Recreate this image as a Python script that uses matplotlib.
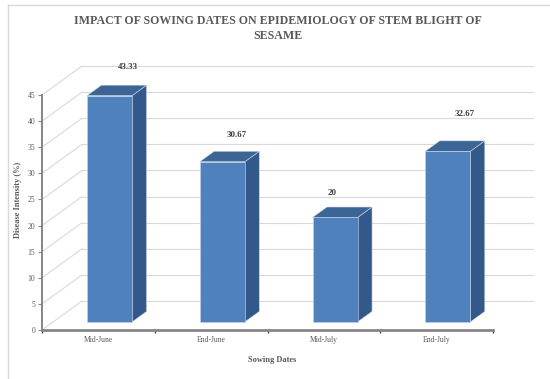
import matplotlib
matplotlib.use("Agg")
import matplotlib.pyplot as plt
from matplotlib.patches import Polygon
from matplotlib.lines import Line2D

# ---- data ----
categories = ["Mid-June", "End-June", "Mid-July", "End-July"]
intensity = [43.33, 30.67, 20, 32.67]
value_labels = ["43.33", "30.67", "20", "32.67"]
y_ticks = [0, 5, 10, 15, 20, 25, 30, 35, 40, 45]

# ---- layout / style ----
W, H, DPI = 550, 379, 100
SERIF = ["Liberation Serif", "DejaVu Serif"]
FRONT = "#4f81bd"
TOP = "#3c6596"
SIDE = "#32598a"
GRID = "#d9d9d9"
AXIS = "#868686"
TEXT = "#595959"

# oblique depth of the 3-D box, in data units
DX = 0.355           # category units
DY = 5.55            # value units
BAR_W = 0.40
BAR_F0 = 0.28        # where bars start in depth (fraction of box depth)
BAR_D = 0.36         # bar depth (fraction of box depth)

YMAX = 45
n = len(categories)

fig = plt.figure(figsize=(W / DPI, H / DPI), dpi=DPI)

# plot area: x=0 at px 42, x=4 at px 493; y=0 at px 330, y=45 at px 95
px_cat = (493 - 42) / n
px_val = (330 - 95) / YMAX
ax_w = (n + DX) * px_cat
ax_h = (YMAX + DY) * px_val
ax = fig.add_axes([42 / W, (H - 330) / H, ax_w / W, ax_h / H])
ax.set_xlim(0, n + DX)
ax.set_ylim(0, YMAX + DY)
ax.patch.set_visible(False)

# walls: side-wall diagonals + back-wall gridlines
for v in y_ticks:
    ax.plot([0, DX], [v, v + DY], color=GRID, lw=0.8, zorder=1, clip_on=False)
    ax.plot([DX, n + DX], [v + DY, v + DY], color=GRID, lw=0.8, zorder=1, clip_on=False)

# 3-D columns
for i, v in enumerate(intensity):
    x0 = i + 0.5 - BAR_W / 2 + BAR_F0 * DX
    x1 = x0 + BAR_W
    y0 = BAR_F0 * DY
    y1 = v + y0
    ddx, ddy = BAR_D * DX, BAR_D * DY
    side = [(x1, y0), (x1 + ddx, y0 + ddy), (x1 + ddx, y1 + ddy), (x1, y1)]
    top = [(x0, y1), (x1, y1), (x1 + ddx, y1 + ddy), (x0 + ddx, y1 + ddy)]
    front = [(x0, y0), (x1, y0), (x1, y1), (x0, y1)]
    for pts, col in ((side, SIDE), (top, TOP), (front, FRONT)):
        ax.add_patch(Polygon(pts, closed=True, facecolor=col,
                             edgecolor="#c8d6ea", lw=0.4, zorder=3))

# value labels (pixel offsets from the front-top centre of each column)
label_off = [(18, 29), (14, 27), (-3, 24), (17, 37)]
for i, (v, txt) in enumerate(zip(intensity, value_labels)):
    xc = i + 0.5 + BAR_F0 * DX
    yc = v + BAR_F0 * DY
    ox, oy = label_off[i]
    ax.annotate(txt, (xc, yc), xytext=(ox * 0.72, oy * 0.72),
                textcoords="offset points", ha="center", va="center",
                fontsize=6.5, fontweight="bold", family=SERIF,
                color="#404040", zorder=5, annotation_clip=False)

# axes lines
for s in ("top", "right"):
    ax.spines[s].set_visible(False)
ax.spines["left"].set_bounds(0, YMAX)
ax.spines["left"].set_color(AXIS)
ax.spines["left"].set_linewidth(1.4)
ax.spines["bottom"].set_bounds(0, n)
ax.spines["bottom"].set_color(AXIS)
ax.spines["bottom"].set_linewidth(2.0)
ax.spines["bottom"].set_zorder(4)

ax.set_yticks(y_ticks)
ax.set_yticklabels([str(t) for t in y_ticks])
ax.tick_params(axis="y", direction="out", length=3, width=0.8, color=AXIS,
               pad=2, labelsize=5.5, labelcolor=TEXT)
for lab in ax.get_yticklabels():
    lab.set_family(SERIF)

ax.set_xticks(range(n + 1))
ax.set_xticklabels([""] * (n + 1))
ax.set_xticks([i + 0.5 for i in range(n)], minor=True)
ax.set_xticklabels(categories, minor=True)
ax.tick_params(axis="x", which="major", direction="out", length=2, width=1.0, color="#404040")
ax.tick_params(axis="x", which="minor", length=0, pad=4, labelsize=5.5, labelcolor=TEXT)
for lab in ax.get_xticklabels(minor=True):
    lab.set_family(SERIF)

# titles
fig.text(278 / W, 1 - 21 / H, "IMPACT OF SOWING DATES ON EPIDEMIOLOGY OF STEM BLIGHT OF",
         ha="center", va="center", fontsize=8.6, fontweight="bold",
         family=SERIF, color=TEXT)
fig.text(278 / W, 1 - 36 / H, "SESAME", ha="center", va="center", fontsize=8.6,
         fontweight="bold", family=SERIF, color=TEXT)
fig.text(272 / W, 1 - 360 / H, "Sowing Dates", ha="center", va="center",
         fontsize=6, fontweight="bold", family=SERIF, color=TEXT)
fig.text(18 / W, 1 - 200 / H, "Disease Intensity (%)", ha="center", va="center",
         rotation=90, fontsize=6, fontweight="bold", family=SERIF, color=TEXT)

# chart border
fig.add_artist(Line2D([8 / W, 1.0], [1 - 5 / H, 1 - 5 / H], transform=fig.transFigure,
                      color=GRID, lw=1.0))
fig.add_artist(Line2D([8 / W, 8 / W], [0.0, 1 - 5 / H], transform=fig.transFigure,
                      color=GRID, lw=1.0))

fig.savefig("out.png", dpi=DPI, facecolor="white")
